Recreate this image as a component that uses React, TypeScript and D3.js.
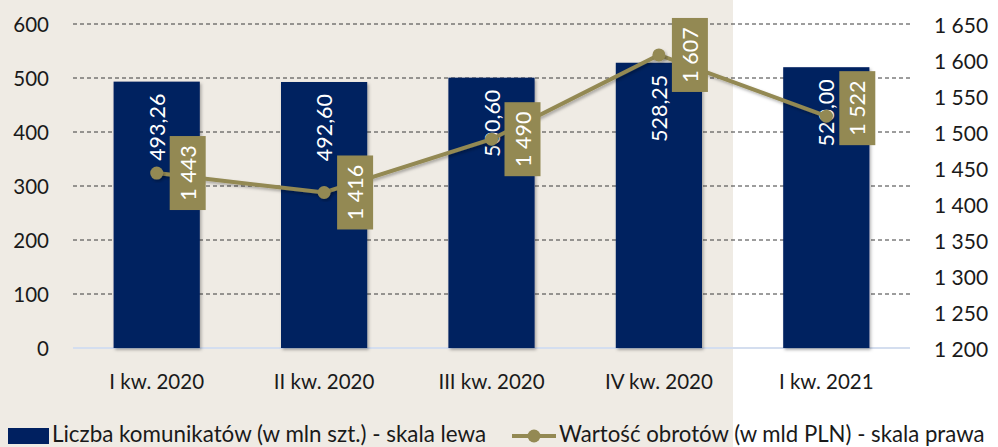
import React from "react";
import * as d3 from "d3";

const categories = ["I kw. 2020", "II kw. 2020", "III kw. 2020", "IV kw. 2020", "I kw. 2021"];
const messages = [493.26, 492.6, 500.6, 528.25, 520.0];
const turnover = [1443, 1416, 1490, 1607, 1522];
const leftTicks = [0, 100, 200, 300, 400, 500, 600];
const rightTicks = [1200, 1250, 1300, 1350, 1400, 1450, 1500, 1550, 1600, 1650];
const legendLabels = ["Liczba komunikatów (w mln szt.) - skala lewa", "Wartość obrotów (w mld PLN) - skala prawa"];

const W = 998, H = 447;
const plot = { left: 73, right: 910, top: 24, bottom: 348 };
const NAVY = "#002060";
const OLIVE = "#938953";
const BEIGE = "#EFEBE4";
const FONT = "Lato, 'Open Sans', sans-serif";
const labelShift = [0, 0, 0, 0, -8];

const fmtComma = (v: number) => v.toFixed(2).replace(".", ",");
const fmtSpace = (v: number) => {
  const s = String(Math.round(v));
  return s.replace(/\B(?=(\d{3})+(?!\d))/g, " ");
};

export default function App() {
  const x = d3.scaleBand<string>().domain(categories).range([plot.left, plot.right]).padding(0);
  const yL = d3.scaleLinear().domain([0, 600]).range([plot.bottom, plot.top]);
  const yR = d3.scaleLinear().domain([1200, 1650]).range([plot.bottom, plot.top]);
  const step = x.bandwidth();
  const barW = step * 0.515;
  const cx = (c: string) => (x(c) as number) + step / 2;

  const pts: [number, number][] = categories.map((c, i) => [cx(c), yR(turnover[i])]);
  const line = d3.line<[number, number]>().x((d) => d[0]).y((d) => d[1])(pts) || "";

  return (
    <svg width={W} height={H} style={{ position: "absolute", left: 0, top: 0, fontFamily: FONT }}>
      <defs>
        <filter id="sh" x="-20%" y="-20%" width="140%" height="140%">
          <feDropShadow dx="1.5" dy="2" stdDeviation="1.5" floodColor="#000" floodOpacity="0.3" />
        </filter>
      </defs>
      <rect x={0} y={0} width={W} height={H} fill="#fff" />
      <rect x={0} y={0} width={733} height={H} fill={BEIGE} />

      {leftTicks.filter((t) => t > 0).map((t) => (
        <line key={t} x1={plot.left} x2={plot.right} y1={yL(t)} y2={yL(t)} stroke="#3a3a3a" strokeWidth={1} strokeDasharray="4,3" />
      ))}
      <line x1={plot.left} x2={plot.right} y1={plot.bottom} y2={plot.bottom} stroke="#D4DEEF" strokeWidth={2} />

      {leftTicks.map((t) => (
        <text key={t} x={49} y={yL(t)} textAnchor="end" dominantBaseline="central" fontSize={20.5} fill="#1a1a1a">{t}</text>
      ))}
      {rightTicks.map((t) => (
        <text key={t} x={934} y={yR(t)} textAnchor="start" dominantBaseline="central" fontSize={21} fill="#1a1a1a">{fmtSpace(t)}</text>
      ))}
      {categories.map((c) => (
        <text key={c} x={cx(c)} y={381} textAnchor="middle" dominantBaseline="central" fontSize={20.5} fill="#1a1a1a">{c}</text>
      ))}

      {categories.map((c, i) => (
        <rect key={c} x={cx(c) - barW / 2} y={yL(messages[i])} width={barW} height={plot.bottom - yL(messages[i])} fill={NAVY} filter="url(#sh)" />
      ))}
      {categories.map((c, i) => {
        const tx = cx(c), ty = yL(messages[i]) + 12;
        return (
          <text key={c} transform={`translate(${tx},${ty}) rotate(-90)`} textAnchor="end" dominantBaseline="central" fontSize={21.5} fill="#fff">{fmtComma(messages[i])}</text>
        );
      })}

      <path d={line} fill="none" stroke={OLIVE} strokeWidth={4} filter="url(#sh)" />
      {pts.map((p, i) => (
        <circle key={i} cx={p[0]} cy={p[1]} r={6.5} fill={OLIVE} filter="url(#sh)" />
      ))}
      {pts.map((p, i) => {
        const label = fmtSpace(turnover[i]);
        const tw = label.length * 11 + 1;
        const bh = tw + 18;
        const bx = p[0] + 13, by = p[1] + labelShift[i] - bh / 2;
        return (
          <g key={i}>
            <rect x={bx} y={by} width={36} height={bh} fill={OLIVE} />
            <text transform={`translate(${bx + 18},${p[1] + labelShift[i]}) rotate(-90)`} textAnchor="middle" dominantBaseline="central" fontSize={21.5} fill="#fff">{label}</text>
          </g>
        );
      })}

      <rect x={8} y={428} width={41} height={16} fill={NAVY} />
      <text x={52} y={433} dominantBaseline="central" fontSize={22.4} fill="#1a1a1a">{legendLabels[0]}</text>
      <line x1={512} x2={556} y1={436} y2={436} stroke={OLIVE} strokeWidth={4} />
      <circle cx={534} cy={436} r={6.5} fill={OLIVE} />
      <text x={559} y={433} dominantBaseline="central" fontSize={22.2} fill="#1a1a1a">{legendLabels[1]}</text>
    </svg>
  );
}
